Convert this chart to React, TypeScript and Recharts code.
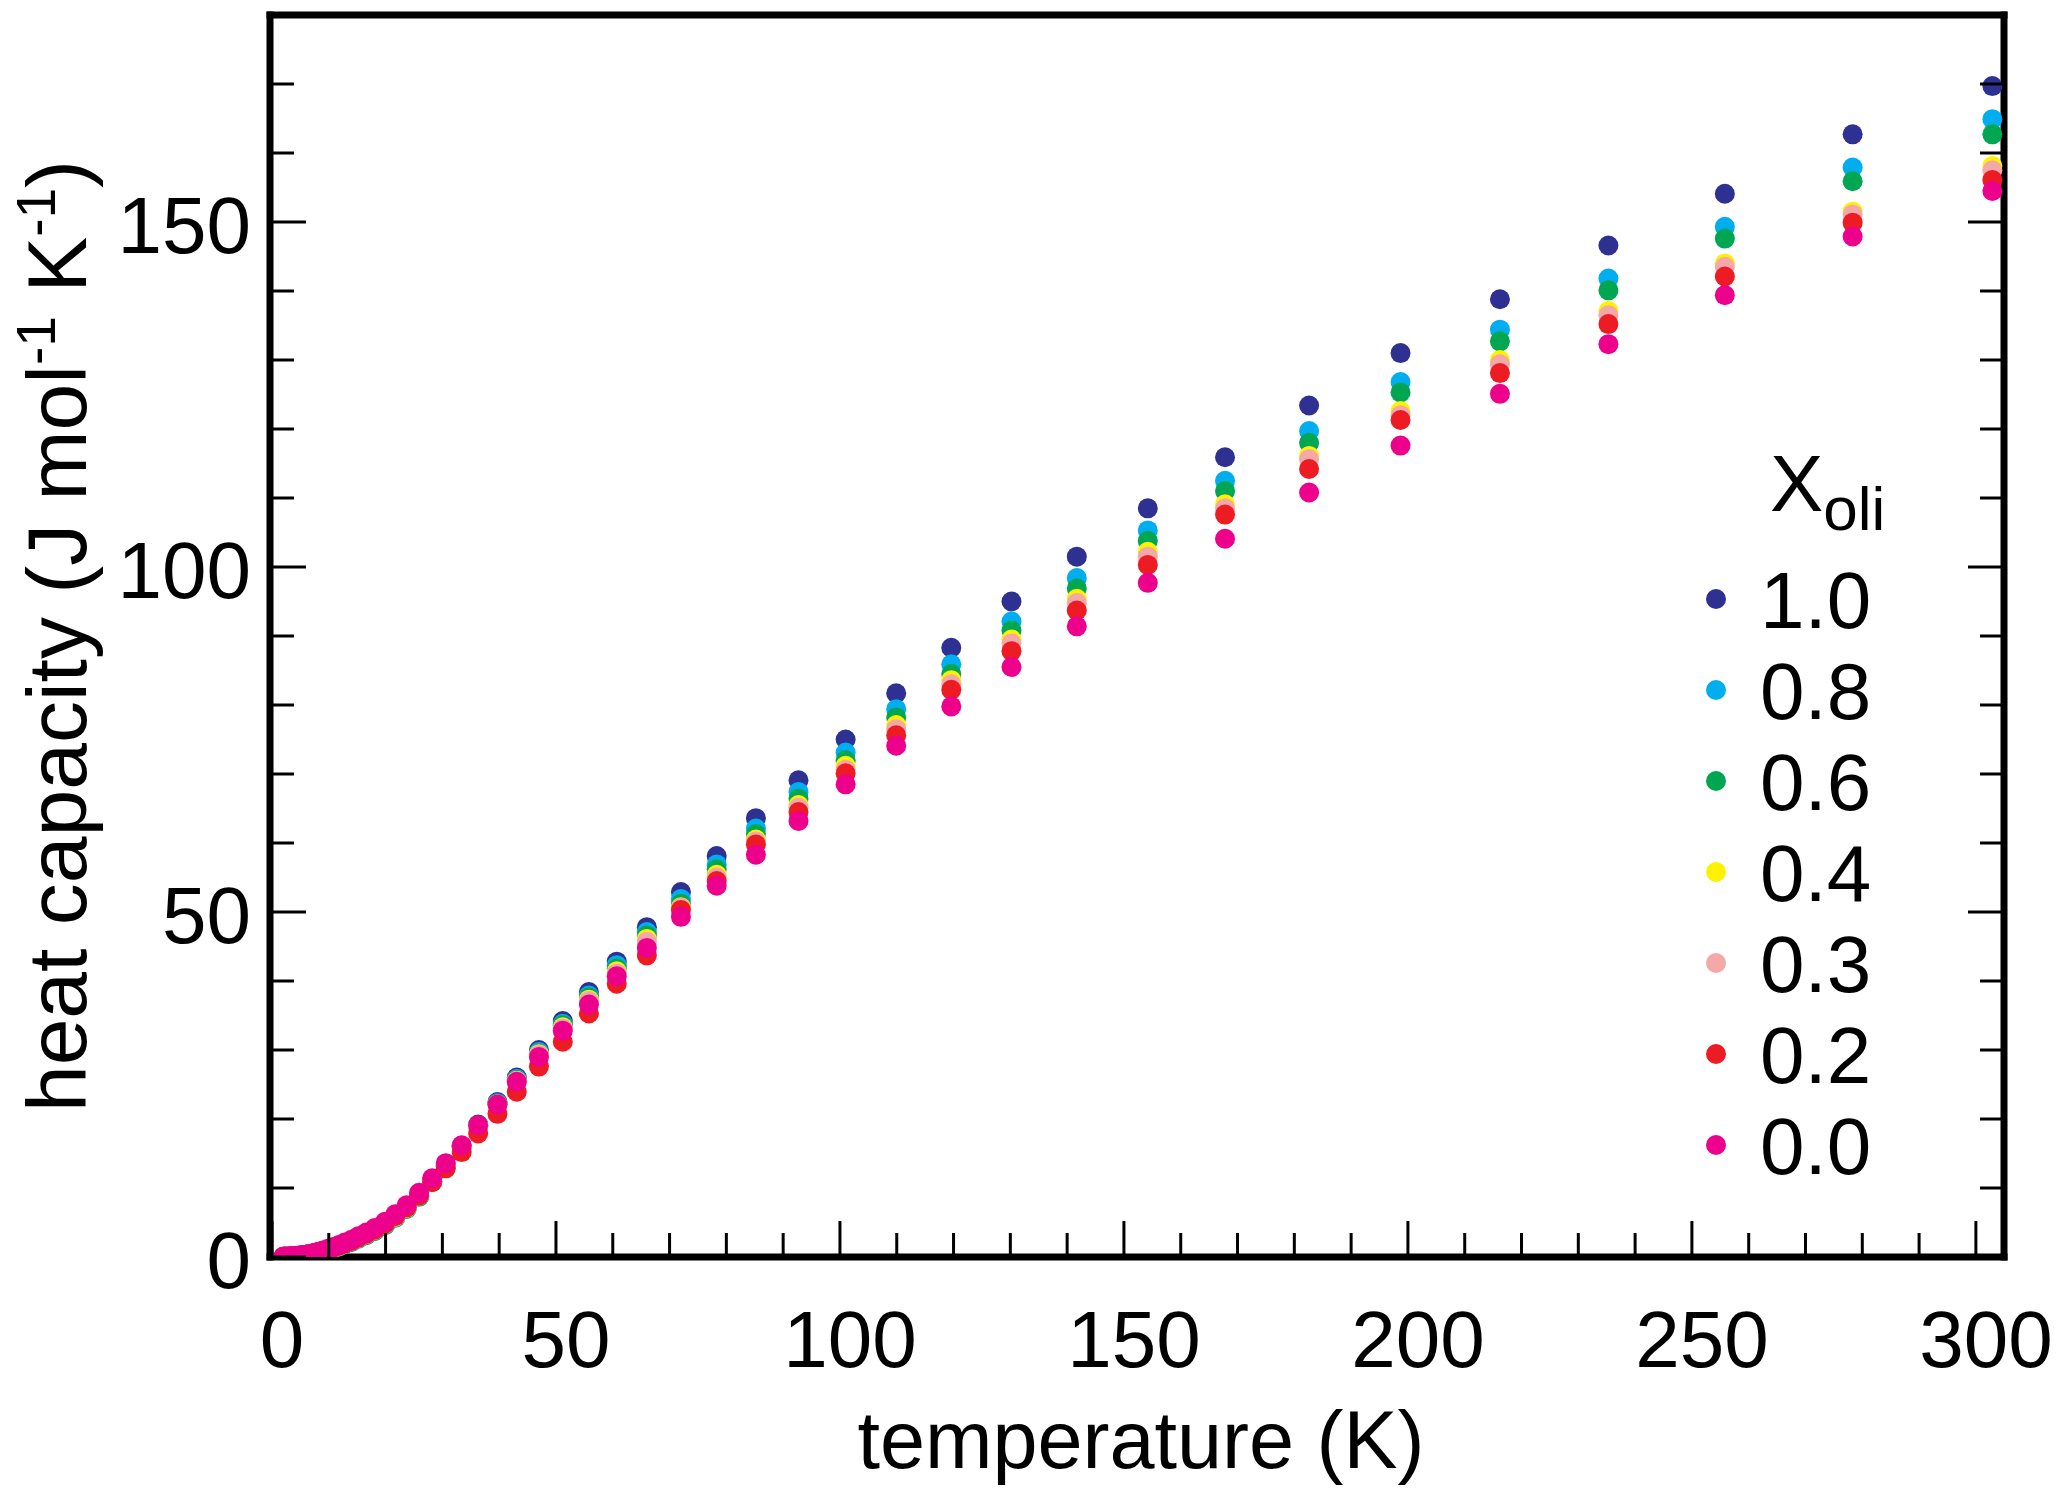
import { ScatterChart, Scatter, XAxis, YAxis, Legend } from "recharts";

const FONT = "'Liberation Sans', Arial, Helvetica, sans-serif";

// temperature (K) of each measurement
const TEMPS = [
  2.0, 2.2, 2.4, 2.6, 2.8, 3.1, 3.3, 3.6, 3.9, 4.3, 4.6, 5.0, 5.5, 6.0, 6.5, 7.1, 7.7, 8.4, 9.1, 9.9,
  10.8, 11.8, 12.8, 14.0, 15.2, 16.6, 18.1, 19.9, 21.7, 23.7,
  25.9, 28.2, 30.6, 33.4, 36.3, 39.7, 43.1,
  47.0, 51.2, 55.8, 60.7, 66.0,
  72.0, 78.3, 85.2, 92.7, 101.0, 109.9, 119.6, 130.2, 141.7, 154.2, 167.8, 182.6, 198.7, 216.2, 235.3, 255.8, 278.3, 302.9,
];

// heat capacity (J mol-1 K-1) per composition
const CP_100 = [
  0.02, 0.025, 0.03, 0.04, 0.045, 0.055, 0.07, 0.085, 0.1, 0.13, 0.16, 0.19, 0.24, 0.3, 0.37, 0.46, 0.56, 0.7, 0.86, 1.05,
  1.28, 1.55, 1.88, 2.24, 2.7, 3.2, 3.82, 4.68, 5.75, 7.03,
  8.82, 10.98, 13.3, 16.1, 19.2, 22.45, 26.0,
  30.0, 34.2, 38.4, 42.8, 47.8,
  52.9, 58.1, 63.6, 69.1, 75.0, 81.7, 88.3, 95.0, 101.5, 108.5, 115.9, 123.4, 131.0, 138.8, 146.6, 154.1, 162.7, 169.7,
];
const CP_080 = [
  0.02, 0.025, 0.03, 0.035, 0.04, 0.05, 0.065, 0.08, 0.1, 0.125, 0.15, 0.18, 0.23, 0.29, 0.36, 0.45, 0.55, 0.69, 0.85, 1.03,
  1.26, 1.53, 1.85, 2.2, 2.65, 3.15, 3.77, 4.62, 5.68, 6.95,
  8.72, 10.88, 13.15, 15.95, 19.05, 22.3, 25.8,
  29.7, 33.8, 37.9, 42.3, 47.1,
  51.9, 56.9, 62.1, 67.4, 73.1, 79.4, 85.9, 92.1, 98.4, 105.3, 112.5, 119.7, 126.8, 134.4, 141.8, 149.3, 157.9, 164.9,
];
const CP_060 = [
  0.02, 0.025, 0.03, 0.04, 0.045, 0.055, 0.07, 0.085, 0.1, 0.13, 0.16, 0.19, 0.24, 0.3, 0.37, 0.46, 0.57, 0.71, 0.87, 1.06,
  1.3, 1.57, 1.9, 2.26, 2.72, 3.23, 3.85, 4.7, 5.77, 7.04,
  8.82, 10.95, 13.2, 15.95, 19.0, 22.2, 25.65,
  29.5, 33.6, 37.6, 41.8, 46.6,
  51.2, 56.2, 61.3, 66.4, 72.0, 78.2, 84.5, 90.8, 96.9, 103.8, 111.0, 118.0, 125.3, 132.7, 140.1, 147.6, 155.9, 162.7,
];
const CP_040 = [
  0.025, 0.03, 0.035, 0.04, 0.05, 0.06, 0.07, 0.09, 0.11, 0.135, 0.165, 0.2, 0.25, 0.31, 0.39, 0.48, 0.59, 0.74, 0.9, 1.1,
  1.34, 1.62, 1.95, 2.32, 2.78, 3.3, 3.92, 4.78, 5.85, 7.12,
  8.9, 11.0, 13.25, 15.95, 18.95, 22.1, 25.55,
  29.4, 33.3, 37.3, 41.4, 46.1,
  50.7, 55.4, 60.5, 65.5, 71.2, 77.1, 83.6, 89.5, 95.4, 102.2, 109.1, 116.1, 122.6, 130.0, 137.1, 144.0, 151.5, 158.1,
];
const CP_030 = [
  0.025, 0.03, 0.04, 0.045, 0.05, 0.06, 0.075, 0.095, 0.115, 0.14, 0.17, 0.21, 0.26, 0.32, 0.4, 0.49, 0.61, 0.76, 0.93, 1.13,
  1.38, 1.66, 2.0, 2.38, 2.85, 3.38, 4.0, 4.87, 5.95, 7.23,
  9.0, 11.1, 13.35, 16.0, 19.0, 22.1, 25.5,
  29.3, 33.1, 37.1, 41.1, 45.7,
  50.6, 55.0, 60.2, 65.1, 70.6, 76.5, 83.0, 88.9, 94.8, 101.5, 108.5, 115.6, 122.0, 129.4, 136.5, 143.5, 151.1, 157.5,
];
const CP_020 = [
  0.025, 0.03, 0.04, 0.045, 0.05, 0.06, 0.075, 0.095, 0.115, 0.14, 0.17, 0.21, 0.26, 0.32, 0.4, 0.49, 0.6, 0.75, 0.92, 1.12,
  1.35, 1.63, 1.95, 2.33, 2.8, 3.33, 3.95, 4.83, 5.92, 7.2,
  8.9, 10.85, 12.85, 15.2, 17.9, 20.75, 23.95,
  27.6, 31.2, 35.3, 39.6, 43.7,
  50.3, 54.5, 59.8, 64.5, 70.1, 75.6, 82.2, 87.8, 93.7, 100.3, 107.6, 114.2, 121.3, 128.1, 135.2, 142.1, 149.9, 156.1,
];
const CP_000 = [
  0.025, 0.03, 0.04, 0.045, 0.05, 0.065, 0.08, 0.1, 0.12, 0.15, 0.18, 0.22, 0.28, 0.34, 0.42, 0.52, 0.64, 0.8, 0.98, 1.2,
  1.45, 1.75, 2.1, 2.5, 3.0, 3.55, 4.2, 5.1, 6.2, 7.5,
  9.3, 11.4, 13.6, 16.2, 19.1, 22.1, 25.4,
  29.0, 32.8, 36.6, 40.7, 44.8,
  49.3, 53.8, 58.3, 63.2, 68.5, 74.1, 79.8, 85.5, 91.4, 97.7, 104.1, 110.8, 117.6, 125.1, 132.3, 139.4, 147.9, 154.5,
];

const SERIES = [
  { name: "1.0", color: "#2e3192", values: CP_100 },
  { name: "0.8", color: "#00aeef", values: CP_080 },
  { name: "0.6", color: "#00a651", values: CP_060 },
  { name: "0.4", color: "#fff200", values: CP_040 },
  { name: "0.3", color: "#f5a8a8", values: CP_030 },
  { name: "0.2", color: "#ed1c24", values: CP_020 },
  { name: "0.0", color: "#ec008c", values: CP_000 },
];

const X_TICKS = [0, 10, 20, 30, 40, 50, 60, 70, 80, 90, 100, 110, 120, 130, 140, 150, 160, 170, 180, 190, 200, 210, 220, 230, 240, 250, 260, 270, 280, 290, 300];
const Y_TICKS = [0, 10, 20, 30, 40, 50, 60, 70, 80, 90, 100, 110, 120, 130, 140, 150, 160, 170, 180];
const X_LABELS = [0, 50, 100, 150, 200, 250, 300];
const Y_LABELS = [0, 50, 100, 150];

const tickLen = (v: number) => (v % 50 === 0 ? 36 : 24);

function BottomTick({ x, y, payload }: any) {
  const v = payload.value;
  return (
    <g>
      <line x1={x} y1={y} x2={x} y2={y - tickLen(v)} stroke="#000" strokeWidth={3} />
      {X_LABELS.includes(v) && (
        <text x={x + 10} y={y + 110} textAnchor="middle" fontSize={80} fontFamily={FONT} fill="#000">
          {v}
        </text>
      )}
    </g>
  );
}

function TopTick({ x, y, payload }: any) {
  return <line x1={x} y1={y} x2={x} y2={y + tickLen(payload.value)} stroke="#000" strokeWidth={3} />;
}

function LeftTick({ x, y, payload }: any) {
  const v = payload.value;
  return (
    <g>
      <line x1={x} y1={y} x2={x + tickLen(v)} y2={y} stroke="#000" strokeWidth={3} />
      {Y_LABELS.includes(v) && (
        <text x={x - 19} y={y + 31} textAnchor="end" fontSize={80} fontFamily={FONT} fill="#000">
          {v}
        </text>
      )}
    </g>
  );
}

function RightTick({ x, y, payload }: any) {
  return <line x1={x} y1={y} x2={x - tickLen(payload.value)} y2={y} stroke="#000" strokeWidth={3} />;
}

function LegendBox() {
  return (
    <svg width={260} height={780} style={{ display: "block" }}>
      <text x={80} y={91} fontSize={80} fontFamily={FONT} fill="#000">
        X
        <tspan fontSize={62} dy={19}>
          oli
        </tspan>
      </text>
      {SERIES.map((s, i) => (
        <g key={s.name}>
          <circle cx={26} cy={179 + i * 91} r={10} fill={s.color} />
          <text x={70} y={179 + i * 91 + 29} fontSize={80} fontFamily={FONT} fill="#000">
            {s.name}
          </text>
        </g>
      ))}
    </svg>
  );
}

const axisLine = { stroke: "#000", strokeWidth: 7, strokeLinecap: "square" as const };

export default function App() {
  return (
    <div style={{ position: "absolute", left: 0, top: 0, background: "#fff" }}>
      <ScatterChart width={2067} height={1495} margin={{ top: 0, right: 0, bottom: 0, left: 0 }}>
        <XAxis
          xAxisId="b"
          type="number"
          dataKey="t"
          domain={[-0.35, 304.95]}
          allowDataOverflow
          ticks={X_TICKS}
          interval={0}
          height={238}
          tickSize={0}
          tickMargin={0}
          tickLine={false}
          axisLine={axisLine}
          tick={<BottomTick />}
          label={{
            content: ({ viewBox }: any) => (
              <text
                x={viewBox.x + viewBox.width / 2 + 4}
                y={viewBox.y + 211}
                textAnchor="middle"
                fontSize={81}
                fontFamily={FONT}
                fill="#000"
              >
                temperature (K)
              </text>
            ),
          }}
        />
        <XAxis
          xAxisId="t"
          orientation="top"
          type="number"
          domain={[-0.35, 304.95]}
          allowDataOverflow
          ticks={X_TICKS}
          interval={0}
          height={15}
          tickSize={0}
          tickMargin={0}
          tickLine={false}
          axisLine={axisLine}
          tick={<TopTick />}
        />
        <YAxis
          yAxisId="l"
          type="number"
          dataKey="c"
          domain={[0, 180]}
          allowDataOverflow
          ticks={Y_TICKS}
          interval={0}
          width={270}
          tickSize={0}
          tickMargin={0}
          tickLine={false}
          axisLine={axisLine}
          tick={<LeftTick />}
          label={{
            content: ({ viewBox }: any) => (
              <text
                transform={`translate(86, ${viewBox.y + viewBox.height / 2}) rotate(-90)`}
                textAnchor="middle"
                fontSize={84}
                fontFamily={FONT}
                fill="#000"
              >
                heat capacity (J mol
                <tspan fontSize={55} dy={-31}>
                  -1
                </tspan>
                <tspan dy={31}> K</tspan>
                <tspan fontSize={55} dy={-31}>
                  -1
                </tspan>
                <tspan dy={31}>)</tspan>
              </text>
            ),
          }}
        />
        <YAxis
          yAxisId="r"
          orientation="right"
          type="number"
          domain={[0, 180]}
          allowDataOverflow
          ticks={Y_TICKS}
          interval={0}
          width={63}
          tickSize={0}
          tickMargin={0}
          tickLine={false}
          axisLine={axisLine}
          tick={<RightTick />}
        />
        <Legend
          layout="vertical"
          align="center"
          verticalAlign="middle"
          wrapperStyle={{ left: 1690, top: 420, width: 260 }}
          content={() => <LegendBox />}
        />
        {SERIES.map((s) => (
          <Scatter
            key={s.name}
            name={s.name}
            xAxisId="b"
            yAxisId="l"
            data={TEMPS.map((t, i) => ({ t, c: s.values[i] }))}
            fill={s.color}
            isAnimationActive={false}
            shape={(p: any) => <circle cx={p.cx} cy={p.cy} r={10} fill={s.color} />}
          />
        ))}
      </ScatterChart>
    </div>
  );
}
